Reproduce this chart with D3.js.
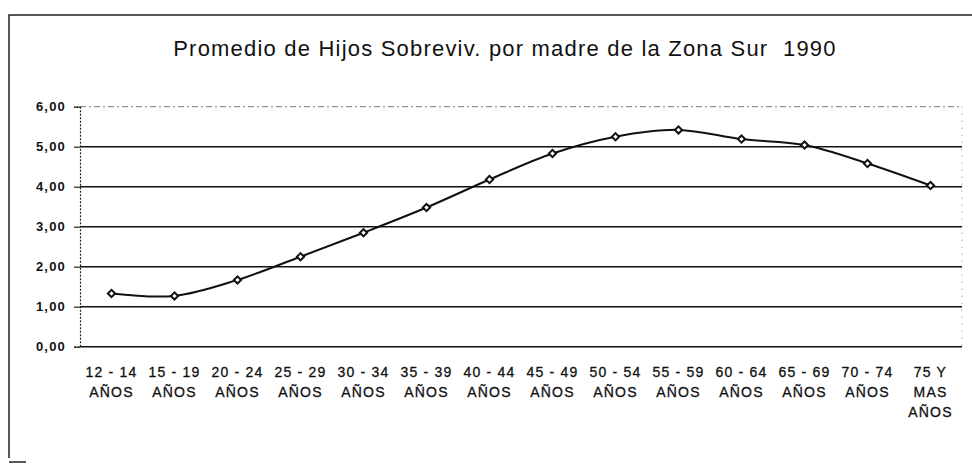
<!DOCTYPE html>
<html>
<head>
<meta charset="utf-8">
<script src="https://cdn.jsdelivr.net/npm/d3@7"></script>
<style>
  html, body { margin: 0; padding: 0; background: #fff; }
  svg { display: block; }
  text { font-family: "Liberation Sans", Arial, sans-serif; fill: #111; }
</style>
</head>
<body>
<svg id="chart" width="972" height="465"></svg>
<script>
// Age groups (each label split into lines) and mean surviving children per mother
const categories = [
  ["12 - 14", "AÑOS"], ["15 - 19", "AÑOS"], ["20 - 24", "AÑOS"], ["25 - 29", "AÑOS"],
  ["30 - 34", "AÑOS"], ["35 - 39", "AÑOS"], ["40 - 44", "AÑOS"], ["45 - 49", "AÑOS"],
  ["50 - 54", "AÑOS"], ["55 - 59", "AÑOS"], ["60 - 64", "AÑOS"], ["65 - 69", "AÑOS"],
  ["70 - 74", "AÑOS"], ["75 Y", "MAS", "AÑOS"]
];
const values = [1.33, 1.27, 1.67, 2.25, 2.85, 3.48, 4.18, 4.83, 5.25, 5.42, 5.19, 5.04, 4.58, 4.03];
const yTicks = [0, 1, 2, 3, 4, 5, 6];
const title = "Promedio de Hijos Sobreviv. por madre de la Zona Sur  1990";

const svg = d3.select("#chart");
const plot = { left: 80, right: 962, top: 106.7, bottom: 346.7 };

const x = d3.scaleBand()
  .domain(d3.range(categories.length))
  .range([plot.left, plot.right]);
const y = d3.scaleLinear().domain([0, 6]).range([plot.bottom, plot.top]);
const fmt = v => d3.format(".2f")(v).replace(".", ",");

// outer frame
svg.append("path")
  .attr("d", `M9,458 L9,15 L972,15`)
  .attr("fill", "none").attr("stroke", "#222").attr("stroke-width", 1.5);
svg.append("line")
  .attr("x1", 9).attr("x2", 26).attr("y1", 462).attr("y2", 462)
  .attr("stroke", "#222").attr("stroke-width", 1.5);

// title
svg.append("text")
  .attr("x", 505).attr("y", 56)
  .attr("text-anchor", "middle")
  .attr("font-size", 22)
  .attr("letter-spacing", 1.2)
  .style("white-space", "pre")
  .text(title);

// horizontal gridlines
svg.append("g").selectAll("line")
  .data(yTicks.filter(t => t > 0))
  .join("line")
  .attr("x1", plot.left).attr("x2", plot.right)
  .attr("y1", d => y(d)).attr("y2", d => y(d))
  .attr("stroke", d => d === 6 ? "#777" : "#111")
  .attr("stroke-width", d => d === 6 ? 1 : 1.6)
  .attr("stroke-dasharray", d => d === 6 ? "6,3,2,3" : null);

// right edge of the plot area, dotted
svg.append("line")
  .attr("x1", plot.right).attr("x2", plot.right)
  .attr("y1", plot.top).attr("y2", plot.bottom)
  .attr("stroke", "#888").attr("stroke-width", 1)
  .attr("stroke-dasharray", "1,6");

// y axis
const yAxis = d3.axisLeft(y).tickValues(yTicks).tickFormat(fmt).tickSize(6).tickPadding(8);
const gy = svg.append("g").attr("transform", `translate(${plot.left},0)`).call(yAxis);
gy.select(".domain").attr("stroke", "#222").attr("stroke-width", 1.2).attr("stroke-dasharray", "2,1.5");
gy.selectAll(".tick line").attr("stroke", "#222").attr("stroke-width", 1.2);
gy.selectAll(".tick text")
  .attr("font-family", "Liberation Sans, Arial, sans-serif")
  .attr("font-size", 13).attr("font-weight", "bold")
  .attr("letter-spacing", 1.2).attr("fill", "#111");

// x axis baseline
svg.append("line")
  .attr("x1", plot.left).attr("x2", plot.right)
  .attr("y1", y(0)).attr("y2", y(0))
  .attr("stroke", "#111").attr("stroke-width", 1.6);

// category labels
const xl = svg.append("g").selectAll("text")
  .data(categories)
  .join("text")
  .attr("x", (d, i) => x(i) + x.bandwidth() / 2)
  .attr("y", 377)
  .attr("text-anchor", "middle")
  .attr("font-size", 14)
  .attr("letter-spacing", 1.2)
  .attr("stroke", "#111").attr("stroke-width", 0.3);
xl.each(function(d) {
  const t = d3.select(this);
  d.forEach((line, k) => {
    t.append("tspan")
      .attr("x", t.attr("x"))
      .attr("dy", k === 0 ? 0 : 20)
      .text(line);
  });
});

// series line
const line = d3.line()
  .x((d, i) => x(i) + x.bandwidth() / 2)
  .y(d => y(d))
  .curve(d3.curveCatmullRom.alpha(0.5));
svg.append("path")
  .datum(values)
  .attr("d", line)
  .attr("fill", "none")
  .attr("stroke", "#111")
  .attr("stroke-width", 2);

// diamond markers (squares turned 45°)
svg.append("g").selectAll("path")
  .data(values)
  .join("path")
  .attr("transform", (d, i) => `translate(${x(i) + x.bandwidth() / 2},${y(d)}) rotate(45)`)
  .attr("d", d3.symbol(d3.symbolSquare, 26))
  .attr("fill", "#fff")
  .attr("stroke", "#111")
  .attr("stroke-width", 2);
</script>
</body>
</html>
